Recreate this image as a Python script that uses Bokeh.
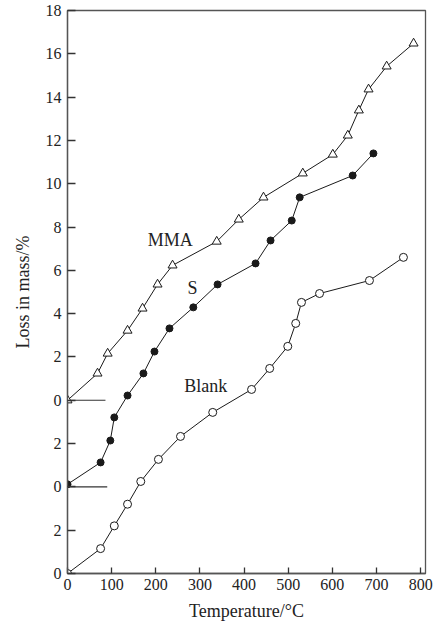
from bokeh.plotting import figure
from bokeh.models import Range1d, FixedTicker, ColumnDataSource
from bokeh.core.properties import value
from bokeh.embed import file_html
from bokeh.resources import INLINE

# ---- data (loss in mass, %, vs temperature, degC) ----
temp_blank = [0, 75, 106, 136, 166, 206, 256, 329, 417, 458, 499, 517, 530, 571, 684, 761]
loss_blank = [0, 1.15, 2.2, 3.2, 4.25, 5.27, 6.33, 7.44, 8.5, 9.47, 10.49, 11.55, 12.52, 12.93, 13.53, 14.6]

temp_s = [0, 75, 97, 106, 136, 172, 197, 231, 285, 340, 426, 460, 508, 526, 646, 693]
loss_s = [0.12, 1.13, 2.14, 3.21, 4.22, 5.24, 6.25, 7.32, 8.29, 9.35, 10.32, 11.38, 12.3, 13.37, 14.38, 15.4]

temp_mma = [0, 68, 91, 136, 170, 204, 238, 338, 388, 444, 533, 601, 635, 660, 682, 723, 784]
loss_mma = [0, 1.24, 2.16, 3.22, 4.24, 5.35, 6.23, 7.33, 8.35, 9.37, 10.48, 11.35, 12.23, 13.39, 14.36, 15.42, 16.48]

series_names = ["Blank", "S", "MMA"]
series_offsets = [0, 4, 8]          # vertical stacking of the curves
baseline_end = [0, 90, 86]          # length of the zero line drawn for stacked curves

x_ticks = [0, 100, 200, 300, 400, 500, 600, 700, 800]
y_ticks = list(range(0, 27, 2))
y_tick_labels = ["0", "2", "0", "2", "0", "2", "4", "6", "8", "10", "12", "14", "16", "18"]

label_x = [313, 283, 233]
label_y = [8.68, 13.2, 15.38]

FONT = "Liberation Serif"
INK = "#1a1a1a"
AXIS = "#555555"

p = figure(width=435, height=628, output_backend="svg", toolbar_location=None,
           x_range=Range1d(0, 811), y_range=Range1d(0, 26),
           min_border_left=67, min_border_right=10, min_border_top=10, min_border_bottom=55)
p.background_fill_color = "white"
p.border_fill_color = "white"
p.grid.visible = False
p.outline_line_color = AXIS
p.outline_line_width = 1.3

for ax in (p.xaxis[0], p.yaxis[0]):
    ax.axis_line_color = AXIS
    ax.axis_line_width = 1.3
    ax.major_tick_line_color = "#333333"
    ax.major_tick_line_width = 1.3
    ax.major_tick_out = 0
    ax.minor_tick_line_color = None
    ax.major_label_text_font = FONT
    ax.major_label_text_font_size = "16px"
    ax.major_label_text_color = "#222222"
    ax.axis_label_text_font = FONT
    ax.axis_label_text_font_size = "18px"
    ax.axis_label_text_font_style = "normal"
    ax.axis_label_text_color = "#222222"

p.xaxis.ticker = FixedTicker(ticks=x_ticks)
p.xaxis.major_tick_in = 6
p.xaxis.major_label_standoff = 5
p.xaxis.axis_label = "Temperature/\u00b0C"
p.xaxis.axis_label_standoff = 8

p.yaxis.ticker = FixedTicker(ticks=y_ticks)
p.yaxis.major_label_overrides = {t: s for t, s in zip(y_ticks, y_tick_labels)}
p.yaxis.major_tick_in = 8
p.yaxis.major_label_standoff = 6
p.yaxis.axis_label = "Loss in mass/%"
p.yaxis.axis_label_standoff = 10

# zero lines of the stacked curves
for off, end in zip(series_offsets, baseline_end):
    if end > 0:
        p.segment(x0=[0], y0=[off], x1=[end], y1=[off], line_color="#333333", line_width=1.2)

temps = [temp_blank, temp_s, temp_mma]
losses = [loss_blank, loss_s, loss_mma]
for name, off, t, l in zip(series_names, series_offsets, temps, losses):
    src = ColumnDataSource(dict(x=t, y=[v + off for v in l]))
    p.line("x", "y", source=src, line_color=INK, line_width=1)
    if name == "Blank":
        p.scatter("x", "y", source=src, marker="circle", size=8,
                  fill_color="white", line_color=INK, line_width=1)
    elif name == "S":
        p.scatter("x", "y", source=src, marker="circle", size=7,
                  fill_color=INK, line_color=INK, line_width=1)
    else:
        p.scatter("x", "y", source=src, marker="triangle", size=9,
                  fill_color="white", line_color=INK, line_width=1)

p.text(x=label_x, y=label_y, text=series_names, text_font=value(FONT),
       text_font_size="18px", text_color="#222222",
       text_align="center", text_baseline="middle")

open("out.html", "w").write(file_html(p, INLINE))
